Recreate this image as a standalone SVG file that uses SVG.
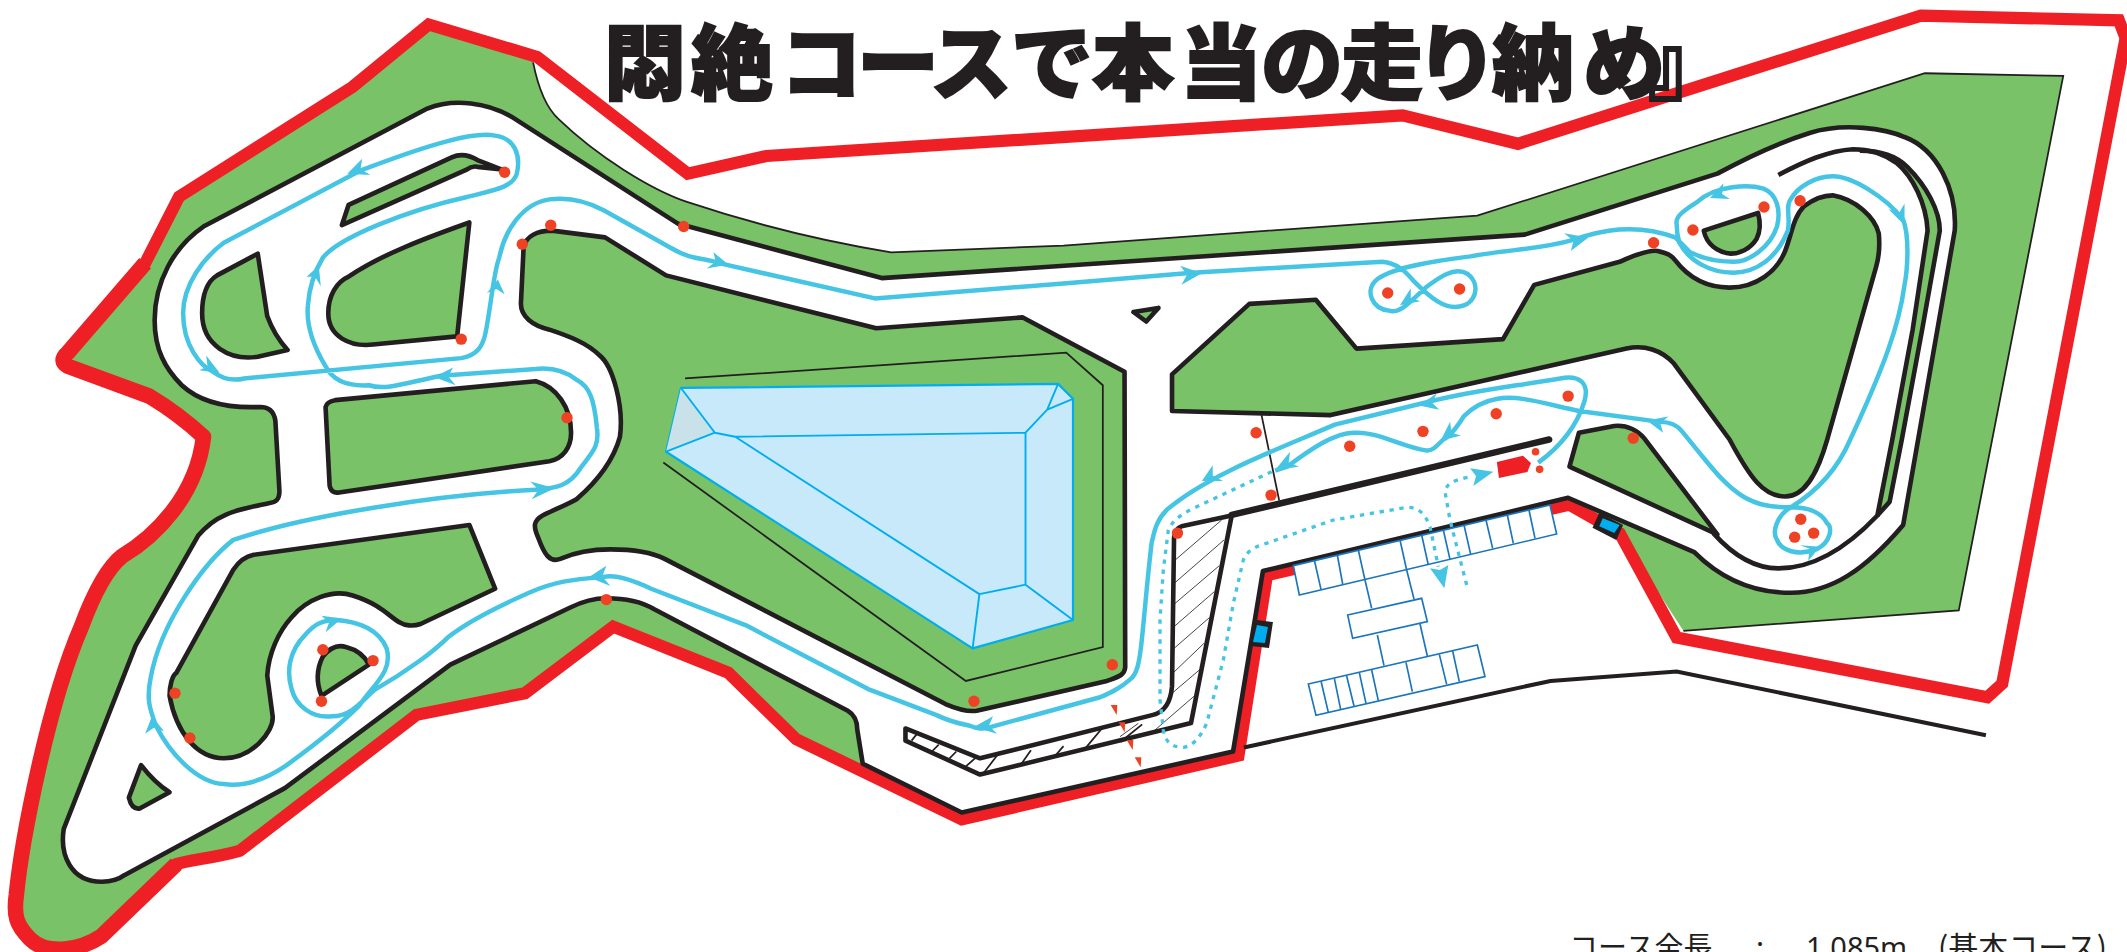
<svg xmlns="http://www.w3.org/2000/svg" width="2127" height="952" viewBox="0 0 2127 952">
<style>
.green{fill:#79c267}
.k{stroke:#231f20;stroke-width:3.4;stroke-linejoin:round;fill:none}
.isl{fill:#79c267;stroke:#231f20;stroke-width:3.4;stroke-linejoin:round}
.thin{fill:none;stroke:#231f20;stroke-width:1.3}
.lake{fill:none;stroke:#00aeef;stroke-width:1.4;stroke-linejoin:round}
.course{fill:none;stroke:#45c5e3;stroke-width:3.3;stroke-linejoin:round}
.dot{fill:#ef4123}
.arr{fill:#45c5e3}
.hatch{fill:none;stroke:#231f20;stroke-width:2.5}
.park{fill:#fff;stroke:#1b75bc;stroke-width:5;stroke-linejoin:miter}
.parkl{fill:none;stroke:#1b75bc;stroke-width:5}
.dash{fill:none;stroke:#45c5e3;stroke-width:10;stroke-dasharray:13 17}
.title{font-family:"Noto Sans CJK JP","Noto Sans CJK SC",sans-serif;font-weight:900;font-size:82px;fill:#231f20;stroke:#231f20;stroke-width:2}
.info{font-family:"Noto Sans CJK JP","Noto Sans CJK SC",sans-serif;font-size:29px;fill:#231f20}
</style>
<rect width="2127" height="952" fill="#fff"/>
<g id="map" transform="scale(1.3565)">
<path id="ground" class="green" d="M393,46 C397,66 403,80 412,88 C440,115 480,140 507,149 C570,170 620,180 657,186 L784,181 L1089,159 L1419,54 L1521,56 L1444,450 L1241,465 L1194,393 L1156,372 L934,424 L913,557 L709,604 L587,545 L537,496 L452,462 L387,511 L307,527 L177,627 C160,632 140,634 130,637 L75,690 C60,700 35,705 22,692 C12,682 10,675 12,660 C16,620 35,520 60,462 C70,435 80,418 90,410 C115,395 145,365 150,322 L110,292 L47,270 L50,260 L112,192 L132,145 L260,64 L316,18 L396,42 Z"/>
<path id="ground-edge" class="thin" d="M393,46 C397,66 403,80 412,88 C440,115 480,140 507,149 C570,170 620,180 657,186 L784,181 L1089,159 L1419,54 L1521,56 L1444,450 L1241,465"/>
<path id="boundary" fill="none" stroke="#ef1f26" stroke-width="9" stroke-linejoin="miter" d="M1416,11.5 L1562,15 L1567,28 L1476,504 L1465,514 L1236,470 L1194,393 L1157,372 L934,424 L913,557 L709,604 L587,545 L537,496 L452,462 L387,511 L307,527 L177,627 C160,632 140,634 130,637 L75,690 C60,700 35,705 22,692 C12,682 10,675 12,660 C16,620 35,520 60,462 C70,435 80,418 90,410 C115,395 145,365 150,322 C135,308 120,298 110,292 L50,270 Q43,266 50,260 L107,194 L132,145 L260,64 L316,18 L396,42 L507,128 L565,115 L1034,85 L1119,106 Z"/>
<path id="boundary-left" fill="none" stroke="#ef1f26" stroke-width="11.5" stroke-linejoin="round" d="M130,637 L75,690 C60,700 35,705 22,692 C12,682 10,675 12,660 C16,620 35,520 60,462 C70,435 80,418 90,410 C115,395 145,365 150,322 C135,308 120,298 110,292 L50,270 Q43,266 50,260 L107,194"/>
<path id="outer-wall" fill="none" stroke="#231f20" stroke-width="3" d="M917,551 L1143,502 L1236,495 L1464,542"/>
<path id="track" fill="#fff" stroke="#231f20" stroke-width="3.4" stroke-linejoin="round" d="M500,165 L377,86 C360,76 335,72 315,80 L150,167 C128,182 114,208 114,236 C114,258 122,272 134,284 C148,297 170,301 192,300 C199,300 202,304 203,310 L206,362 C206,368 204,370 198,371 C175,376 160,378 146,395 L100,476 L47,611 C44,630 52,650 75,650 C82,650 88,648 92,645 L210,581 L332,490 L420,448 C430,443 440,441 447,441 C460,441 472,443 482,449 L625,524 C630,527 632,532 632,538 L636,563 L709,599 L909,554 L931,421 L1156,367 L1249,407 C1262,420 1285,437 1320,437 C1350,437 1375,420 1403,387 L1441,170 C1443,140 1428,110 1404,101 C1390,95 1360,90 1334,98 C1315,104 1290,115 1266,128 L1124,173 L650,205 Z"/>
<g id="islands">
<path id="island-a" class="isl" d="M257,151 L333,116 Q342,112 352,118 L370,125 L352,123 Q348,122 344,125 L252,166 Z"/>
<path id="island-b" class="isl" d="M190,187 L197,233 Q202,247 212,258 L190,263 C170,266 149,255 149,231 C149,218 152,208 160,203 Z"/>
<path id="island-c" class="isl" d="M346,164 L337,248 L275,254 C258,256 242,248 242,231 C242,218 248,208 257,204 C280,188 315,175 346,164 Z"/>
<path id="island-d" class="isl" d="M386,182 C388,174 396,170 407,170 L446,175 L491,203 L646,242 L754,234 L829,274 L829.5,492 C829,498 824,499 816,502 L720,524 C712,525 704,522 697,519 L490,412 C478,406 462,405 450,405 C435,405 422,408 413,412 C405,415 401,408 397,397 C393,388 393,384 400,380 C408,376 418,372 425,368 C440,355 452,340 457,322 C460,300 452,270 442,262 C433,253 420,248 405,243 C392,240 384,233 384,224 Z"/>
<path id="island-e" class="isl" d="M240,300 Q241,296 247,295 L395,281 C410,285 421,300 421,319 C421,330 415,338 405,340 L250,363 Q244,364 243,358 Z"/>
<path id="island-f" class="isl" d="M346,387 L365,434 L310,460 C304,462 298,461 295,459 C287,455 282,446 260,439 C245,434 226,442 215,455 C205,466 198,482 197,498 L201,528 C202,540 185,559 165,559 C145,559 130,540 125,513 C125,505 127,498 130,496 L172,420 C176,414 182,410 187,409 Z"/>
<path id="island-g" class="isl" d="M238,484 Q246,474 255,477 Q267,480 272,490 L237,513 Q231,498 238,484 Z"/>
<path id="island-h" class="isl" d="M104,564 Q114,577 125,584 L103,596 Q97,597 95,588 Z"/>
<path id="island-i" class="isl" d="M835.5,230 L854,227 L845,237 Z"/>
<path id="island-j" class="isl" d="M864,276 L921,224 L970,221 L1000,257 L1108,250 L1131,210 L1194,193 C1205,188 1215,184 1222,185 C1230,187 1232,188 1235,192 C1245,205 1258,212 1275,212 C1295,212 1310,200 1316,185 C1321,172 1322,160 1330,152 C1338,146 1345,144 1351,144 C1368,147 1382,160 1385,172 C1386,182 1385,190 1383,197 L1347,324 C1341,345 1332,366 1316,366 C1300,366 1290,352 1275,324 L1234,268 C1225,258 1212,254 1199,257 L981,306 L864,303 Z"/>
<path id="island-k" class="isl" d="M1157,344 L1164,319 L1190,314 C1200,313 1208,318 1212,323 L1266,394 Z"/>
<path id="island-l" class="isl" d="M1256,170 L1296,157 Q1299,168 1295,176 C1290,184 1282,187 1276,187 C1266,186 1258,180 1256,170 Z"/>
<path id="sliver" class="green" d="M1366,110 C1385,110 1398,114 1406,123 C1420,137 1430,155 1430,170 L1417,243 L1402,324 L1393,370 L1384,380 L1395,324 L1410,243 L1421,170 C1420,150 1410,130 1398,120 C1388,113 1376,110 1366,110 Z"/>
<path id="inner-wall-a" class="k" fill="none" d="M1371,111 C1385,111 1398,115 1406,123 C1420,137 1430,155 1430,170 L1417,243 L1402,324 L1393,370 L1384,380"/>
<path id="inner-wall-b" class="k" d="M1311,129 C1330,119 1348,111 1366,110 C1376,110 1388,113 1398,120 C1410,130 1420,150 1421,170 L1410,243 L1395,324 L1384,380 C1365,400 1340,419 1311,419 C1296,419 1280,412 1263,393"/>
</g>
<g id="lake">
<path fill="#c7e9f9" stroke="#00aeef" stroke-width="1.6" stroke-linejoin="round" d="M502,286 L780,283 L791,294 L791,457 L717,478 L491,333 Z"/>
<path fill="#c9e2ea" d="M502,286 L527,319 L491,333 Z"/>
<path class="lake" d="M502,286 L527,319 L542,322 L756,319 L772,302 L791,294 M780,283 L772,302 M491,333 L527,319 M542,322 L722,438 L756,431 L756,319 M722,438 L717,478 M756,431 L791,457"/>
<path class="thin" d="M505,279 L786,260 L813,284 L813,477 L712,502 L489,341"/>
</g>
<path id="pit-lane" fill="#fff" stroke="#231f20" stroke-width="3.4" stroke-linejoin="round" d="M871,388 L908,380 L878,533 L722.5,571 L667.5,546 L667.5,537 L722.5,559 L850,527 C858,525 863,518 864,506 L865.5,396 C866,392 868,389 871,388 Z"/>
<path id="pit-wall" fill="none" stroke="#231f20" stroke-width="4.8" stroke-linecap="round" d="M908,379.6 L1142,324"/>
<path id="section-line" class="thin" d="M930,306 L943,369"/>
<path id="hatch-small" class="thin" d="M672,546 L676,541 M687,554 L692,549 M700,559 L705,554 M712,565 L720,558 M725,570 L735,557 M753,563 L760,553 M778,557 L784,550 M799,553 L814,535 M826,547 L842,534"/>
<path id="course" class="course" d="M1134,341 C1152,328 1163,312 1168,296 C1172,282 1164,276 1150,279 C1115,285 1085,288 1054,296 L984,313 C945,330 890,350 860,376 C852,384 851,392 849,400 C846,425 844,450 842,469 C840,490 838,497 833,501 C825,508 818,511 811,514 L730,536 C724,538 720,537 715,535 C705,533 698,531 690,527 L640,508 L550,461 L480,434 C465,427 455,424 447,425 C425,427 410,428 390,437 C365,448 345,458 330,470 C320,480 300,495 277,508 C268,515 260,528 245,528 C230,530 218,520 215,508 C211,495 213,480 225,468 C232,460 238,457 248,457 C265,458 280,465 285,478 C290,495 275,505 265,520 C250,535 228,552 210,565 C195,575 180,580 165,578 C145,577 125,555 115,535 C110,522 108,515 111,500 C118,460 150,415 172,398 C225,380 320,365 395,361 C410,360 420,358 428,345 C438,332 442,328 440,315 C438,295 435,285 425,280 C415,272 405,271 395,272 L325,277 C300,282 285,288 272,284 C255,285 245,280 240,270 C228,250 226,235 227,225 C228,210 232,200 238,190 C250,175 300,155 345,145 C365,140 378,138 381,128 C384,115 380,102 365,100 C350,97 320,105 265,126 L165,179 C150,190 135,210 135,231 C135,255 148,270 157,274 C165,280 172,281 180,279 L340,264 C352,262 356,255 358,245 C362,225 364,200 368,190 C372,170 385,150 405,147 C420,145 432,148 445,155 L495,183 C510,192 520,190 530,194 L645,220 L784,209 L879,201 L1019,193 C1030,194 1036,200 1042,207 C1055,220 1065,228 1076,226 C1088,224 1092,210 1082,202 C1072,196 1060,205 1051,212 C1042,220 1032,232 1024,229 C1012,228 1006,215 1014,207 C1025,197 1060,192 1084,189 C1110,184 1135,184 1159,177 C1180,170 1205,164 1235,175 C1240,180 1246,186 1246,186 C1258,192 1268,193 1278,193 C1290,193 1305,182 1310,167 C1313,155 1310,143 1300,139 C1290,136 1265,136 1251,149 C1240,156 1235,160 1236,165 C1236,172 1238,179 1238,179 C1245,192 1260,201 1278,201 C1295,201 1310,190 1318,170 C1320,160 1316,152 1320,147 C1325,138 1338,130 1351,130 C1365,130 1390,145 1403,162 C1408,175 1406,200 1404,210 C1400,240 1389,270 1364,324 C1355,345 1340,362 1320,374 C1310,380 1306,392 1310,398 C1313,406 1325,410 1339,405 C1350,400 1351,388 1347,386 C1342,376 1330,374 1320,374 C1305,374 1295,372 1285,366 C1272,358 1262,345 1253,334 L1240,318 C1236,313 1230,311 1224,311 L1164,303 C1140,298 1120,291 1104,294 C1092,296 1083,303 1079,307 C1074,315 1068,322 1064,324 C1058,330 1055,333 1051,332 C1035,330 1015,318 999,319 C985,318 965,332 949,344 L940,347"/>
<g id="arrows" class="arr">
<polygon points="256,128 267,117 265.8,124.5 273,129"/>
<polygon points="235,196 226,204 232.2,204 236.5,211"/>
<polygon points="367,206 359,216 366,213 372,217"/>
<polygon points="162,275 152,262 153,270 147,273"/>
<polygon points="320,278 334,271 330.5,277.6 336,284"/>
<polygon points="537,195 526,186 527.5,193 521,198"/>
<polygon points="886,201.5 870,196 875,202.5 871,210"/>
<polygon points="1171,175 1153,172 1160,177.5 1158,185"/>
<polygon points="1032,225 1040,212.5 1040,219.5 1047,222"/>
<polygon points="1260.6,146 1270.5,135 1269.5,143 1275.3,146.7"/>
<polygon points="1404,166 1392,154 1400,157 1404,150"/>
<polygon points="1214,310 1230,307 1224,312 1226,319"/>
<polygon points="1062,325 1069,311 1070,319 1077,321"/>
<polygon points="940,346.5 951,333 950,341 957.6,344"/>
<polygon points="1046,299 1059,290 1056,297 1061,302"/>
<polygon points="886,354.6 894,343 894,350.5 901.6,354.6"/>
<polygon points="718,536 732,528 729,535 735,541"/>
<polygon points="434,425.5 447,417 444,425 450,432"/>
<polygon points="252,456 237,454 242.5,459 240,466"/>
<polygon points="112,528 107,541 113.4,536.4 121,539"/>
<polygon points="409,360 391,355 397,361 392,368"/>
<polygon points="1341.6,403 1327,402 1334,404.5 1333,413.5"/>
</g>
<g id="dots" class="dot">
<circle cx="372" cy="127" r="4.2"/><circle cx="504" cy="167" r="4.2"/><circle cx="406" cy="166" r="4.2"/><circle cx="385" cy="180" r="4.2"/><circle cx="340" cy="250" r="4.2"/><circle cx="418" cy="308" r="4.2"/>
<circle cx="1219" cy="179" r="4.2"/><circle cx="1248" cy="169.6" r="4.2"/><circle cx="1300.4" cy="152.6" r="4.2"/><circle cx="1327" cy="148" r="4.2"/><circle cx="1023" cy="216" r="4.2"/><circle cx="1076" cy="213" r="4.2"/><circle cx="1156" cy="292" r="4.2"/><circle cx="1103" cy="305" r="4.2"/><circle cx="1049" cy="318" r="4.2"/><circle cx="995" cy="329" r="4.2"/><circle cx="926" cy="319" r="4.2"/><circle cx="1204" cy="323" r="4.2"/>
<circle cx="937" cy="365" r="4.2"/><circle cx="868" cy="393" r="4.2"/><circle cx="820" cy="490" r="4.2"/><circle cx="1327.5" cy="382.8" r="4.2"/><circle cx="1323" cy="396" r="4.2"/><circle cx="1337" cy="393" r="4.2"/>
<circle cx="447" cy="442" r="4.2"/><circle cx="718" cy="517" r="4.2"/><circle cx="129" cy="511" r="4.2"/><circle cx="140" cy="544" r="4.2"/><circle cx="238" cy="479" r="4.2"/><circle cx="275" cy="487" r="4.2"/><circle cx="237" cy="517" r="4.2"/>
<circle cx="1132" cy="333" r="2.8"/><circle cx="1135" cy="346" r="2.8"/>
</g>
<g id="gates">
<polygon fill="#231f20" points="926.6,457 938.4,458.6 935.5,477.7 922,476.2"/>
<polygon fill="#00aeef" points="926.6,460.7 934.7,462.2 932.5,474 923.7,473.3"/>
<polygon fill="#231f20" points="1179,378 1196.5,387 1191.5,398 1174,389"/>
<polygon fill="#00aeef" points="1181.5,382 1194,387 1190,393 1179,388"/>
</g>
<polygon id="pit-sign" fill="#ef1f26" points="1103.5,340.6 1122.7,336 1128.6,341.4 1126,348 1105,352.4"/>
</g>
<g id="pit-detail" transform="translate(1100,420) scale(.33333)">
<path class="hatch" d="M365,300 L228,418 M372,360 L225,488 M358,437 L223,552 M343,515 L222,620 M328,593 L220,687 M312,670 L218,760 M298,750 L210,825 M283,828 L165,930 M115,910 L60,950"/>
<g id="parking">
<path class="park" d="M580,437 L1350,255 L1370,342 L598,525 Z"/>
<path class="parkl" d="M795,480 L815,565 M920,450 L942,537 M832,645 L852,737 M960,612 L982,708"/>
<path class="park" d="M743,585 L965,535 L982,605 L758,655 Z"/>
<path class="park" d="M625,792 L1132,675 L1155,770 L648,886 Z"/>
<path class="parkl" d="M643,420 L663,508 M712,405 L728,492 M775,390 L795,480 M900,360 L920,450 M965,345 L985,435 M1030,330 L1050,418 M1092,315 L1112,403 M1158,300 L1178,385 M1222,285 L1240,370 M1287,270 L1305,355 M663,783 L685,877 M703,775 L722,868 M740,768 L762,858 M778,758 L798,850 M815,750 L835,842 M918,727 L937,815 M1018,703 L1040,793 M1058,693 L1078,785"/>
</g>
<path id="pit-route-in" class="dash" d="M515,155 L280,265 C240,285 215,305 205,330 L190,450 L180,600 L180,840 L190,930 C195,965 215,982 250,982 C275,980 300,955 320,910 L370,720 L400,550 L430,420 C440,395 460,385 470,380 L700,300 L920,262 C955,262 975,280 990,320 L1015,440"/>
<path id="pit-route-out" class="dash" d="M1100,495 L1050,300 L1035,215 C1040,190 1060,180 1115,170"/>
<g class="arr">
<polygon points="1033,505 990,445 1020,450 1045,435"/>
<polygon points="1180,155 1110,145 1128,168 1120,198"/>
</g>
<g fill="#ef4123">
<polygon points="32,855 52,855 50,885"/>
<polygon points="56,907 76,907 74,937"/>
<polygon points="80,960 100,960 98,990"/>
<polygon points="104,1012 124,1012 122,1042"/>
</g>
</g>
<text id="title" class="title" y="93" x="604 691 780 857 930 1011 1092 1180 1261 1341 1416 1492 1583 1648">悶絶コースで本当の走り納め』</text>
<g id="info" class="info">
<text x="1569" y="958">コース全長</text>
<text x="1756" y="958">:</text>
<text x="1806" y="958" font-family="Noto Sans">1,085m</text>
<text x="1938" y="958" font-size="30">(基本コース)</text>
</g>
</svg>
